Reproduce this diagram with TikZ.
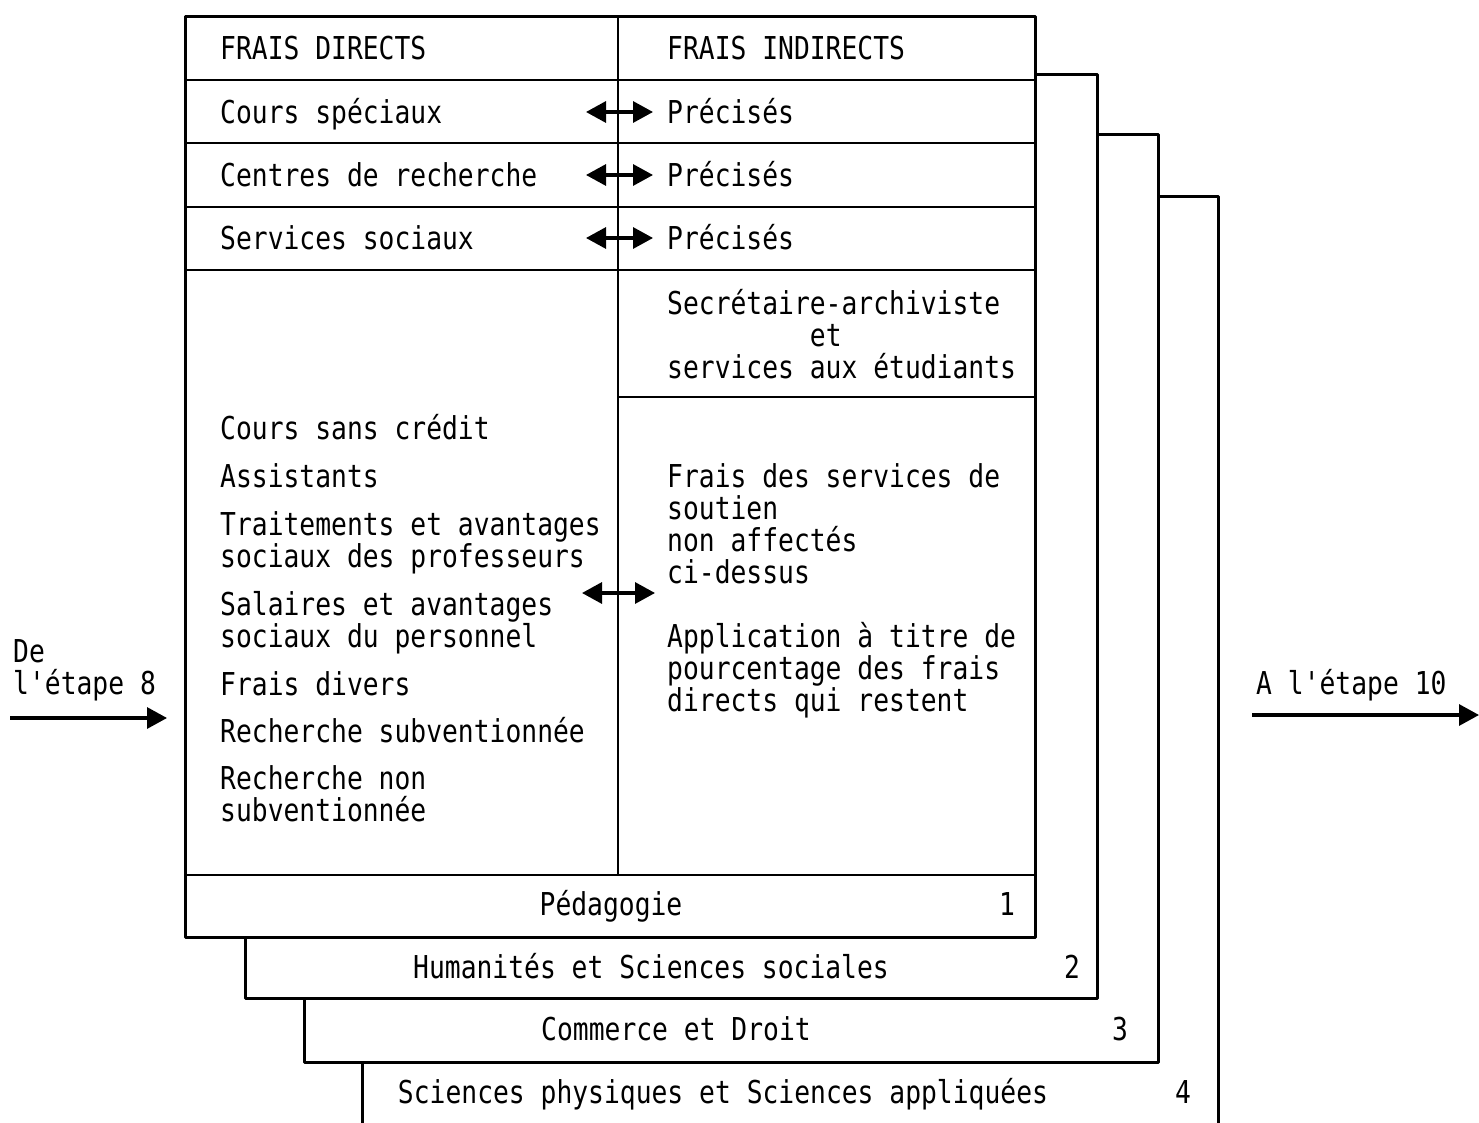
\documentclass[tikz,border=0pt]{standalone}
\usepackage{fontspec}
\setmainfont{DejaVu Sans Mono}[FakeStretch=0.836, Ligatures=TeXOff]
\usepackage{tikz}
\usetikzlibrary{positioning,arrows.meta}
\tikzset{
	every node/.style={inner sep=0pt, font=\fontsize{31.5}{32}\selectfont}, % typewriter-like lettering
	txt/.style={anchor=base west, align=left}, % text set from its (last) baseline
	mid/.style={anchor=base}, % centred labels
	frame/.style={line width=3pt, line join=round}, % outer frames of the sheets
	rule/.style={line width=2.6pt}, % inner lines of sheet 1
	link/.style={line width=3.2pt, {Triangle[length=20pt,width=21pt]}-{Triangle[length=20pt,width=21pt]}}, % double arrows
	flow/.style={line width=3.2pt, -{Triangle[length=20pt,width=21pt]}}, % in and out arrows
}

\begin{document}
\begin{tikzpicture}[x=1pt,y=-1pt]
	\useasboundingbox (0,0) rectangle (1479,1123);
	% sheets behind
	\draw[frame] (1158,197) -- (1218,197) -- (1218,1123);
	\draw[frame] (362,1062) -- (362,1123);
	\draw[frame] (1097,135) -- (1158,135) -- (1158,1062) -- (304,1062) -- (304,998);
	\draw[frame] (1035,75) -- (1097,75) -- (1097,998) -- (245,998) -- (245,937);
	% sheet 1
	\draw[frame] (185,17) rectangle (1035,937);
	\draw[rule] (618,17) -- (618,875);
	\foreach \y in {80,143,207,270,875}
		\draw[rule] (185,\y) -- (1035,\y);
	\draw[rule] (618,397) -- (1035,397);

	% headers and rows
	\node[txt] (direct) at (220,60) {FRAIS DIRECTS};
	\node[txt] (indirect) at (667,60) {FRAIS INDIRECTS};
	\node[txt] (cours) at (220,124) {Cours spéciaux};
	\node[txt] (prec1) at (667,124) {Précisés};
	\node[txt] (centres) at (220,187) {Centres de recherche};
	\node[txt] (prec2) at (667,187) {Précisés};
	\node[txt] (social) at (220,250) {Services sociaux};
	\node[txt] (prec3) at (667,250) {Précisés};
	\node[txt] (secr) at (667,378) {Secrétaire-archiviste\\\hphantom{Secrétair}et\\services aux étudiants};

	% left list
	\node[txt] (sanscr) at (220,439) {Cours sans crédit};
	\node[txt] (assist) at (220,487) {Assistants};
	\node[txt] (traite) at (220,567) {Traitements et avantages\\sociaux des professeurs};
	\node[txt] (salair) at (220,647) {Salaires et avantages\\sociaux du personnel};
	\node[txt] (divers) at (220,695) {Frais divers};
	\node[txt] (rsub) at (220,742) {Recherche subventionnée};
	\node[txt] (rnon) at (220,821) {Recherche non\\subventionnée};

	% right list
	\node[txt] (soutien) at (667,583) {Frais des services de\\soutien\\non affectés\\ci-dessus};
	\node[txt] (applic) at (667,711) {Application à titre de\\pourcentage des frais\\directs qui restent};

	% sheet titles
	\node[mid] (peda) at (611,915) {Pédagogie};
	\node[mid] (n1) at (1007,915) {1};
	\node[mid] (huma) at (651,978) {Humanités et Sciences sociales};
	\node[mid] (n2) at (1072,978) {2};
	\node[mid] (comm) at (676,1040) {Commerce et Droit};
	\node[mid] (n3) at (1120,1040) {3};
	\node[mid] (phys) at (723,1103) {Sciences physiques et Sciences appliquées};
	\node[mid] (n4) at (1183,1103) {4};

	% double arrows
	\coordinate (l1) at (586,112); \coordinate (r1) at (653,112);
	\coordinate (l2) at (586,175); \coordinate (r2) at (653,175);
	\coordinate (l3) at (586,238); \coordinate (r3) at (653,238);
	\coordinate (l4) at (582,593); \coordinate (r4) at (655,593);
	\foreach \i in {1,...,4}
		\draw[link] (l\i) -- (r\i);

	% from and to the other steps
	\node[txt] (de) at (13,694) {De\\l'étape 8};
	\node[txt] (vers) at (1256,694) {A l'étape 10};
	\coordinate (in0) at (10,718); \coordinate (in1) at (167,718);
	\coordinate (out0) at (1252,715); \coordinate (out1) at (1479,715);
	\draw[flow] (in0) -- (in1);
	\draw[flow] (out0) -- (out1);
\end{tikzpicture}
\end{document}
